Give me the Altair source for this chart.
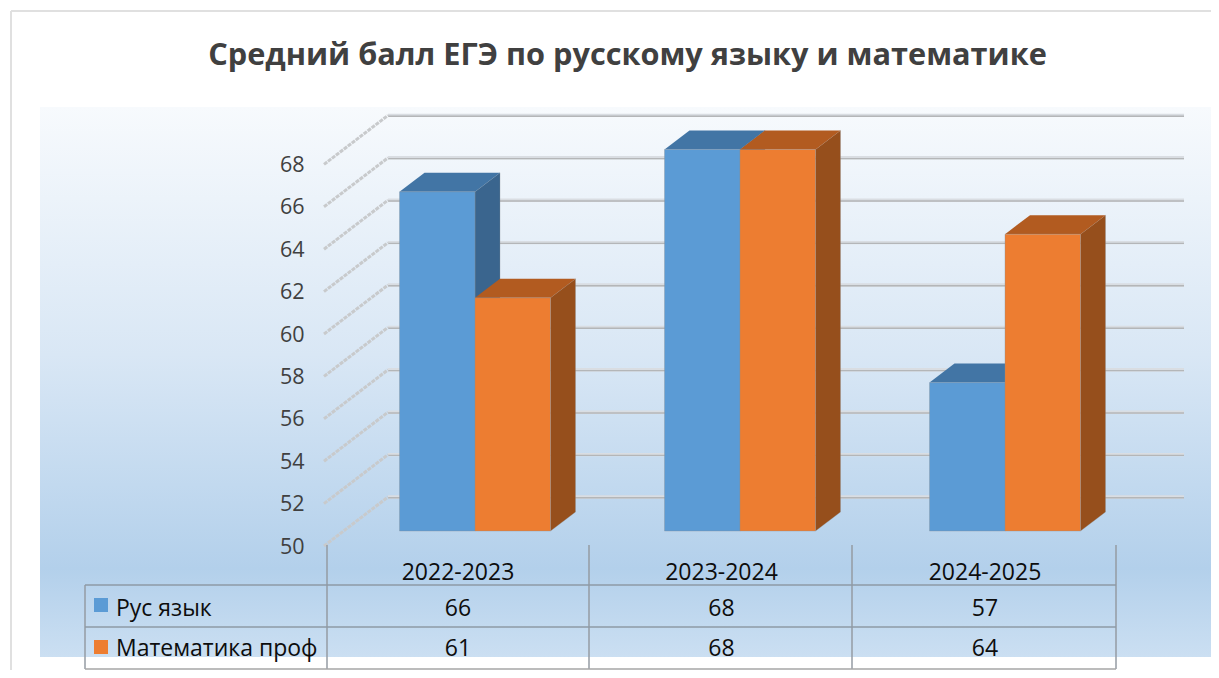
import altair as alt
import pandas as pd

# ---------- values ----------
categories = ["2022-2023", "2023-2024", "2024-2025"]
series_names = ["Рус язык", "Математика проф"]
rus = [66, 68, 57]
math_prof = [61, 68, 64]
ticks = [50, 52, 54, 56, 58, 60, 62, 64, 66, 68]
title_text = "Средний балл ЕГЭ по русскому языку и математике"

# ---------- styling ----------
FONT = "Open Sans"
C_FRONT = ["#5b9bd5", "#ed7d31"]
C_TOP = ["#4275a5", "#b25b20"]
C_SIDE = ["#3a658e", "#964f1c"]
C_TEXT = "#404040"
C_TABLE = "#8e9aa6"
C_TABLE_B = "#a6a6a6"

# ---------- scale geometry: one x unit = one category, one y unit = one point ----------
W, H = 1203, 662
PX_X, PX_Y = 265.0, 21.2
X = lambda px: (px - 475.0) / PX_X
Y = lambda py: 50.0 + (531.0 - py) / PX_Y
BAR = 75.5 / PX_X
DEPTH_X, DEPTH_Y = 25.0 / PX_X, 19.0 / PX_Y
BACK_Y = 34.0 / PX_Y
FRONT_Y = -15.0 / PX_Y

xs = alt.Scale(domain=[X(8), X(8 + W)], nice=False, zero=False)
ys = alt.Scale(domain=[Y(8 + H), Y(8)], nice=False, zero=False)
y_axis = alt.Axis(
    values=ticks, format="d", title=None, domain=False, ticks=False, grid=False,
    labelFont=FONT, labelFontSize=21.5, labelColor=C_TEXT, labelPadding=0,
    labelOffset=16, offset=-296, zindex=1,
)
xq = lambda f: alt.X(f, type="quantitative", scale=xs, axis=None)
yq = lambda f: alt.Y(f, type="quantitative", scale=ys, axis=y_axis)

# ---------- backdrop ----------
bg = alt.Chart(pd.DataFrame([{"x": X(40), "x2": X(8 + W), "y": Y(107), "y2": Y(657)}])).mark_rect(
    fill=alt.LinearGradient(
        gradient="linear", x1=0, x2=0, y1=0, y2=1,
        stops=[
            alt.GradientStop(offset=0, color="#f7fafd"),
            alt.GradientStop(offset=0.45, color="#d9e7f5"),
            alt.GradientStop(offset=0.84, color="#b3d0eb"),
            alt.GradientStop(offset=1, color="#cbdff2"),
        ],
    )
).encode(x=xq("x"), x2="x2", y=yq("y"), y2="y2")

border = alt.Chart(pd.DataFrame([
    {"x": X(11), "x2": X(8 + W), "y": Y(11), "y2": Y(11)},
    {"x": X(11), "x2": X(11), "y": Y(11), "y2": Y(8 + H)},
])).mark_rule(color="#e0e0e0", strokeWidth=2).encode(x=xq("x"), x2="x2", y=yq("y"), y2="y2")

# ---------- walls ----------
grid_df = pd.DataFrame([{"x": X(388), "x2": X(1184), "y": t + BACK_Y} for t in ticks])
grid_light = alt.Chart(grid_df).mark_rule(color="#d9dde2", strokeWidth=3.4).encode(x=xq("x"), x2="x2", y=yq("y"))
grid_dark = alt.Chart(grid_df).mark_rule(color="#b4b6b8", strokeWidth=1.4, yOffset=0.8).encode(x=xq("x"), x2="x2", y=yq("y"))
diag_df = pd.DataFrame([
    {"x": X(324), "x2": X(388), "y": t + FRONT_Y, "y2": t + BACK_Y} for t in ticks
])
diag = alt.Chart(diag_df).mark_rule(color="#c8cacc", strokeWidth=3, strokeDash=[4, 1]).encode(
    x=xq("x"), x2="x2", y=yq("y"), y2="y2"
)

# ---------- 3-D bars, built from the series ----------
def bar_layers(values, s):
    left = [i + (s - 1) * BAR for i in range(len(values))]
    side, top, front = [], [], []
    for i, (v, l) in enumerate(zip(values, left)):
        r = l + BAR
        for k in (0, 1):
            side.append({"id": i, "x": r + k * DEPTH_X, "y": 50 + k * DEPTH_Y, "y2": v + k * DEPTH_Y})
            top.append({"id": i, "x": l + k * DEPTH_X, "x2": r + k * DEPTH_X, "y": v + k * DEPTH_Y})
        front.append({"x": l, "x2": r, "y": 50, "y2": v})
    a = alt.Chart(pd.DataFrame(side)).mark_area(
        color=C_SIDE[s], stroke="#8a8f94", strokeWidth=0.6, strokeOpacity=0.5, interpolate="linear"
    ).encode(x=xq("x"), y=yq("y"), y2="y2", detail="id:N")
    b = alt.Chart(pd.DataFrame(top)).mark_area(
        color=C_TOP[s], orient="horizontal", interpolate="linear"
    ).encode(y=yq("y"), x=xq("x"), x2="x2", detail="id:N")
    c = alt.Chart(pd.DataFrame(front)).mark_rect(
        color=C_FRONT[s], stroke="#8a8f94", strokeWidth=0.8, strokeOpacity=0.45
    ).encode(x=xq("x"), x2="x2", y=yq("y"), y2="y2")
    return [a, b, c]

bars = bar_layers(rus, 0) + bar_layers(math_prof, 1)

# ---------- data table ----------
hl = pd.DataFrame([
    {"x": X(85), "x2": X(1116), "y": Y(585)},
    {"x": X(85), "x2": X(1116), "y": Y(627)},
])
hlines = alt.Chart(hl).mark_rule(color=C_TABLE, strokeWidth=1.5).encode(x=xq("x"), x2="x2", y=yq("y"))
hbot = alt.Chart(pd.DataFrame([{"x": X(85), "x2": X(1116), "y": Y(669)}])).mark_rule(
    color=C_TABLE_B, strokeWidth=1.5
).encode(x=xq("x"), x2="x2", y=yq("y"))
vl = pd.DataFrame(
    [{"x": X(85), "y": Y(585), "y2": Y(669)}]
    + [{"x": X(p), "y": Y(545), "y2": Y(669)} for p in (327, 589, 852, 1116)]
)
vlines = alt.Chart(vl).mark_rule(color="#949ba3", strokeWidth=1.5).encode(x=xq("x"), y=yq("y"), y2="y2")

cell_rows = []
for i, c in enumerate(categories):
    cx = X(458 + i * 263.5)
    cell_rows.append({"x": cx, "y": Y(573), "t": c})
    cell_rows.append({"x": cx, "y": Y(609), "t": str(rus[i])})
    cell_rows.append({"x": cx, "y": Y(649), "t": str(math_prof[i])})
cells = alt.Chart(pd.DataFrame(cell_rows)).mark_text(
    font=FONT, fontSize=23, color="#0d0d0d", align="center", baseline="middle"
).encode(x=xq("x"), y=yq("y"), text="t:N")

leg_text = alt.Chart(pd.DataFrame([
    {"x": X(116), "y": Y(609), "t": series_names[0]},
    {"x": X(116), "y": Y(649), "t": series_names[1]},
])).mark_text(font=FONT, fontSize=23, color="#0d0d0d", align="left", baseline="middle").encode(
    x=xq("x"), y=yq("y"), text="t:N"
)
leg_sq = alt.Chart(pd.DataFrame([
    {"x": X(94), "x2": X(108), "y": Y(598), "y2": Y(612), "c": C_FRONT[0]},
    {"x": X(94), "x2": X(108), "y": Y(640), "y2": Y(654), "c": C_FRONT[1]},
])).mark_rect().encode(
    x=xq("x"), x2="x2", y=yq("y"), y2="y2", color=alt.Color("c:N", scale=None)
)

chart = alt.layer(
    bg, border, grid_light, grid_dark, diag, *bars,
    vlines, hlines, hbot, cells, leg_text, leg_sq,
).properties(
    width=W,
    height=H,
    padding=0,
    autosize=alt.AutoSizeParams(type="none"),
    title=alt.TitleParams(
        title_text, font=FONT, fontSize=30.7, fontWeight="bold", color=C_TEXT,
        anchor="middle", dx=18, offset=-64,
    ),
).configure_view(stroke=None)

chart.save("out.html", embed_options={"renderer": "svg", "actions": False})
